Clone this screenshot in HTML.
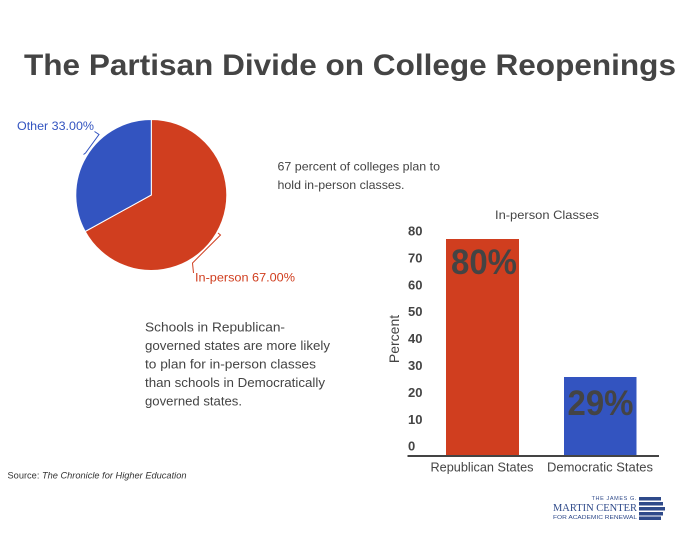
<!DOCTYPE html>
<html><head><meta charset="utf-8"><style>
html,body{margin:0;padding:0;background:#fff;}
svg{display:block;font-family:"Liberation Sans",Arial,sans-serif;}
</style></head><body>
<svg width="700" height="541" viewBox="0 0 700 541" xmlns="http://www.w3.org/2000/svg">
<rect width="700" height="541" fill="#fff"/>
<text x="24" y="75" font-size="30" font-weight="bold" fill="#444" textLength="652" lengthAdjust="spacingAndGlyphs">The Partisan Divide on College Reopenings</text>

<!-- Pie -->
<g stroke="#fff" stroke-width="1">
<path d="M151.3,195 L151.3,119.5 A75.5,75.5 0 1,1 85.2,231.5 Z" fill="#d03e1f"/>
<path d="M151.3,195 L85.2,231.5 A75.5,75.5 0 0,1 151.3,119.5 Z" fill="#3354c0"/>
</g>
<polyline points="94.5,131.5 99,134.5 85.5,153 83.5,154.5" fill="none" stroke="#3354c0" stroke-width="1"/>
<polyline points="218,233 220.5,235 192.5,263 193.5,273" fill="none" stroke="#d03e1f" stroke-width="1"/>
<text x="17" y="130" font-size="12" fill="#3354c0" textLength="77" lengthAdjust="spacingAndGlyphs">Other 33.00%</text>
<text x="195" y="281.5" font-size="12" fill="#d03e1f" textLength="100" lengthAdjust="spacingAndGlyphs">In-person 67.00%</text>

<!-- text blocks -->
<g font-size="12" fill="#444">
<text x="277.5" y="170.5" textLength="162.5" lengthAdjust="spacingAndGlyphs">67 percent of colleges plan to</text>
<text x="277.5" y="189" textLength="127" lengthAdjust="spacingAndGlyphs">hold in-person classes.</text>
</g>
<g font-size="12.5" fill="#444">
<text x="145" y="331.5" textLength="140" lengthAdjust="spacingAndGlyphs">Schools in Republican-</text>
<text x="145" y="350" textLength="185" lengthAdjust="spacingAndGlyphs">governed states are more likely</text>
<text x="145" y="368.5" textLength="171" lengthAdjust="spacingAndGlyphs">to plan for in-person classes</text>
<text x="145" y="387" textLength="180" lengthAdjust="spacingAndGlyphs">than schools in Democratically</text>
<text x="145" y="405.5" textLength="97" lengthAdjust="spacingAndGlyphs">governed states.</text>
</g>

<!-- Bar chart -->
<text x="547" y="219" font-size="12" fill="#444" text-anchor="middle" textLength="104" lengthAdjust="spacingAndGlyphs">In-person Classes</text>
<g font-size="13" font-weight="bold" fill="#444">
<text x="408" y="235.5">80</text>
<text x="408" y="262.4">70</text>
<text x="408" y="289.3">60</text>
<text x="408" y="316.2">50</text>
<text x="408" y="343.1">40</text>
<text x="408" y="370">30</text>
<text x="408" y="396.9">20</text>
<text x="408" y="423.8">10</text>
<text x="408" y="450.7">0</text>
</g>
<text transform="translate(399,339) rotate(-90)" font-size="14" fill="#444" text-anchor="middle">Percent</text>
<rect x="446" y="239" width="73" height="217" fill="#d03e1f"/>
<rect x="564" y="377" width="72.5" height="79" fill="#3354c0"/>
<line x1="407.5" y1="456" x2="659" y2="456" stroke="#444" stroke-width="2"/>
<text x="484" y="274" font-size="35" font-weight="bold" fill="#444" text-anchor="middle" textLength="66" lengthAdjust="spacingAndGlyphs">80%</text>
<text x="600.5" y="415" font-size="35" font-weight="bold" fill="#444" text-anchor="middle" textLength="66" lengthAdjust="spacingAndGlyphs">29%</text>
<text x="482" y="471.7" font-size="13" fill="#444" text-anchor="middle" textLength="103" lengthAdjust="spacingAndGlyphs">Republican States</text>
<text x="600" y="471.7" font-size="13" fill="#444" text-anchor="middle" textLength="106" lengthAdjust="spacingAndGlyphs">Democratic States</text>

<!-- Source -->
<text x="7.5" y="478.5" font-size="9.5" fill="#333" textLength="179" lengthAdjust="spacingAndGlyphs">Source: <tspan font-style="italic">The Chronicle for Higher Education</tspan></text>

<!-- Logo -->
<g fill="#2f4a8a">
<text x="637" y="500" font-size="5.5" text-anchor="end" letter-spacing="0.6">THE JAMES G.</text>
<text x="637" y="511" font-size="10.5" font-family="Liberation Serif,serif" text-anchor="end" textLength="84" lengthAdjust="spacingAndGlyphs">MARTIN CENTER</text>
<text x="637" y="519" font-size="5.5" text-anchor="end" textLength="84" lengthAdjust="spacingAndGlyphs">FOR ACADEMIC RENEWAL</text>
<rect x="639" y="497" width="22" height="3.5"/>
<rect x="639" y="502" width="24" height="3.5"/>
<rect x="639" y="507" width="26" height="3.5"/>
<rect x="639" y="512" width="24" height="3.5"/>
<rect x="639" y="516.5" width="22" height="3.5"/>
</g>
</svg>
</body></html>
